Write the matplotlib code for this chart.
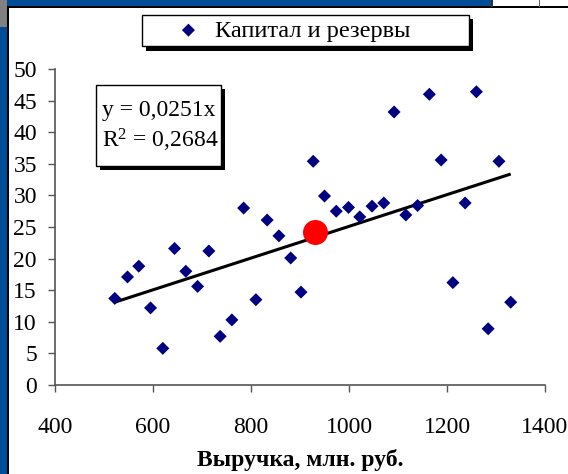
"""
Scatter of equity vs revenue with a linear trend through the origin.
"""

import matplotlib

matplotlib.use("Agg")
import matplotlib.pyplot as plt
import matplotlib.patheffects as pe
from matplotlib.patches import Rectangle

# Revenue, mln rub. and equity values
revenue = [522, 548, 571, 595, 620, 644, 667, 691, 714, 737, 761, 785,
           810, 833, 857, 881, 902, 927, 950, 974, 999, 1022, 1047, 1071,
           1092, 1116, 1140, 1164, 1188, 1212, 1237, 1260, 1284, 1306, 1330]
equity = [13.7, 17.1, 18.8, 12.2, 5.8, 21.6, 18.0, 15.6, 21.2, 7.7, 10.3, 28.0,
          13.5, 26.1, 23.6, 20.1, 14.7, 35.4, 29.9, 27.5, 28.1, 26.6, 28.3, 28.8,
          43.2, 26.9, 28.4, 46.0, 35.6, 16.2, 28.8, 46.4, 8.9, 35.4, 13.1]

# highlighted point (mean of the sample)
mean_point = (930, 24.2)

slope = 0.0251
r_squared = 0.2684

series_label = "Капитал и резервы"
x_label = "Выручка, млн. руб."
x_ticks = [400, 600, 800, 1000, 1200, 1400]
y_ticks = [0, 5, 10, 15, 20, 25, 30, 35, 40, 45, 50]

W, H = 568, 474
plt.rcParams["font.family"] = ["Liberation Serif", "DejaVu Serif"]
plt.rcParams["mathtext.fontset"] = "custom"
plt.rcParams["mathtext.rm"] = "Liberation Serif"
plt.rcParams["mathtext.it"] = "Liberation Serif:italic"

fig = plt.figure(figsize=(W / 100, H / 100), dpi=100)
fig.patch.set_facecolor("white")


def px_rect(x, y, w, h, **kw):
    """Rectangle in figure pixels, y measured from the top."""
    r = Rectangle((x / W, 1 - (y + h) / H), w / W, h / H,
                  transform=fig.transFigure, **kw)
    fig.patches.append(r)
    return r


# slide frame around the chart
blue = "#004c96"
px_rect(0, 0, 7, H, facecolor=blue, edgecolor="none")
px_rect(0, 0, 7, 27, facecolor="#808080", edgecolor="none")
px_rect(7, 0, 485, 7, facecolor=blue, edgecolor="none")
px_rect(7, 7, 2, H, facecolor="black", edgecolor="none")
px_rect(7, 6, W, 2, facecolor="black", edgecolor="none")
px_rect(491, 0, 1.5, 7, facecolor="#303030", edgecolor="none")
px_rect(539, 0, 1, 7, facecolor="#606060", edgecolor="none")

ax = fig.add_axes([55 / W, 1 - 385 / H, 490 / W, 316 / H])

ax.scatter(revenue, equity, marker="D", s=44, color="#000080",
           edgecolors="none", zorder=3, label=series_label)
ax.plot(mean_point[0], mean_point[1], "o", color="red", markersize=18,
        markeredgewidth=0, zorder=4)

x0, x1 = min(revenue), max(revenue)
ax.plot([x0, x1], [slope * x0, slope * x1], color="black", lw=2.2,
        zorder=2, solid_capstyle="butt")

ax.set_xlim(400, 1400)
ax.set_ylim(0, 50)
ax.set_xticks(x_ticks)
ax.set_yticks(y_ticks)
ax.tick_params(direction="out", length=5, width=1, color="#555555",
               labelsize=17)
ax.tick_params(axis="x", pad=18)
ax.tick_params(axis="y", pad=8)
for side in ("top", "right"):
    ax.spines[side].set_visible(False)
for side in ("left", "bottom"):
    ax.spines[side].set_color("#555555")
    ax.spines[side].set_linewidth(1.2)
ax.set_xlabel(x_label, fontsize=17, fontweight="bold", labelpad=8)

shadow = [pe.SimplePatchShadow(offset=(3, -3), shadow_rgbFace="black",
                               alpha=1), pe.Normal()]

# equation box of the trend line
box = px_rect(96, 85, 125, 81, facecolor="white", edgecolor="black",
              linewidth=1, zorder=5)
box.set_path_effects(shadow)
eq_text = f"y = {slope:.4f}x\nR$^2$ = {r_squared:.4f}".replace(".", ",")
fig.text(102 / W, 1 - 127 / H, eq_text, fontsize=17, ha="left", va="center",
         linespacing=1.3, zorder=6)

leg = ax.legend(loc="center", bbox_to_anchor=(142 / W, 1 - 48 / H, 327 / W, 35 / H),
                bbox_transform=fig.transFigure, mode="expand", fontsize=17.6,
                frameon=True, fancybox=False, borderpad=0.2,
                handlelength=3.4, handletextpad=-0.6, scatterpoints=1,
                borderaxespad=0)
frame = leg.get_frame()
frame.set_edgecolor("black")
frame.set_linewidth(1)
frame.set_alpha(1)
frame.set_path_effects(shadow)

fig.savefig("out.png", dpi=100, facecolor="white")
